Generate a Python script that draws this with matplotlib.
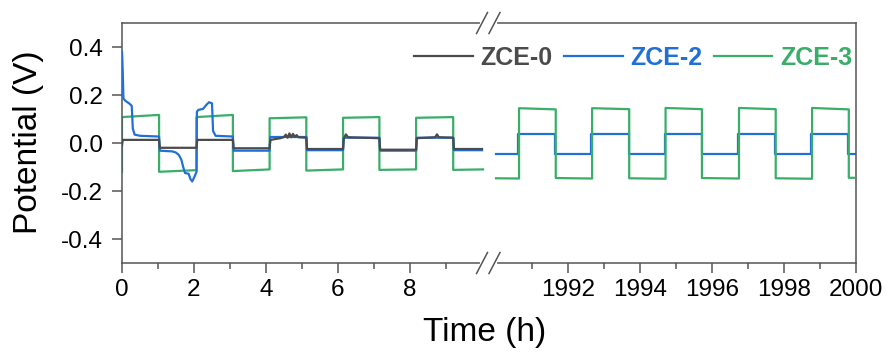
import matplotlib
matplotlib.use("Agg")
import matplotlib.pyplot as plt
from matplotlib.lines import Line2D
from matplotlib.ticker import FixedLocator

plt.rcParams['font.family'] = ['Liberation Sans', 'DejaVu Sans']
plt.rcParams['axes.unicode_minus'] = False

# ---------------- data ----------------
series_names = ["ZCE-0", "ZCE-2", "ZCE-3"]
colors = {"ZCE-0": "#4b4b4b", "ZCE-2": "#2170da", "ZCE-3": "#3aae69"}

# left segment (0-10 h)
zce0_t = [0, 0.02, 1.03, 1.05, 2.07, 2.09, 3.08, 3.10, 4.10, 4.12, 4.2, 4.4, 4.5, 4.55, 4.6, 4.65,
          4.7, 4.75, 4.8, 4.85, 4.9, 5.12, 5.14, 6.14, 6.16, 6.22, 6.28, 7.15, 7.17, 8.17, 8.19,
          8.7, 8.75, 8.8, 9.2, 9.22, 10.0]
zce0_v = [-0.01, 0.013, 0.013, -0.02, -0.02, 0.013, 0.013, -0.022, -0.022, 0.012, 0.015, 0.02,
          0.025, 0.035, 0.022, 0.04, 0.024, 0.038, 0.025, 0.033, 0.024, 0.022, -0.025, -0.025,
          0.018, 0.036, 0.024, 0.02, -0.028, -0.028, 0.02, 0.024, 0.036, 0.024, 0.022, -0.025,
          -0.025]

zce2_t = [0, 0.02, 0.04, 0.1, 0.2, 0.27, 0.3, 0.35, 0.5, 1.03, 1.05, 1.4, 1.5, 1.58, 1.65, 1.7,
          1.75, 1.85, 1.9, 1.95, 2.0, 2.07, 2.08, 2.12, 2.25, 2.35, 2.42, 2.5, 2.53, 2.6, 3.08,
          3.10, 4.10, 4.12, 5.12, 5.14, 6.14, 6.16, 7.15, 7.17, 8.17, 8.19, 9.2, 9.22, 10.0]
zce2_v = [0.38, 0.30, 0.185, 0.175, 0.165, 0.155, 0.06, 0.035, 0.03, 0.027, -0.032, -0.035,
          -0.04, -0.05, -0.07, -0.10, -0.125, -0.128, -0.15, -0.16, -0.145, -0.12, 0.13, 0.138,
          0.142, 0.16, 0.17, 0.165, 0.05, 0.03, 0.027, -0.032, -0.032, 0.025, 0.025, -0.03,
          -0.03, 0.022, 0.022, -0.032, -0.032, 0.022, 0.022, -0.03, -0.03]

zce3_switch_L = [0, 1.03, 2.07, 3.08, 4.10, 5.12, 6.14, 7.15, 8.17, 9.20, 10.03]
zce3_start_L = [0.108, -0.120, 0.108, -0.117, 0.103, -0.115, 0.105, -0.112, 0.105, -0.112]
zce3_end_L = [0.117, -0.113, 0.117, -0.110, 0.107, -0.110, 0.108, -0.110, 0.108, -0.110]
zce3_initial = -0.12

# right segment (1990-2000 h)
switch_R = [1990.0, 1990.64, 1991.66, 1992.67, 1993.70, 1994.71, 1995.72, 1996.75, 1997.77,
            1998.78, 1999.80, 2000.0]
zce2_switch_R = [1990.0, 1990.62, 1991.65, 1992.65, 1993.69, 1994.69, 1995.71, 1996.73, 1997.76,
                 1998.76, 1999.79, 2000.0]
zce2_level_R = [-0.046, 0.038, -0.046, 0.038, -0.046, 0.038, -0.046, 0.038, -0.046, 0.038, -0.046]
zce3_start_R = [-0.147, 0.145, -0.146, 0.145, -0.147, 0.146, -0.146, 0.146, -0.147, 0.146, -0.145]
zce3_end_R = [-0.148, 0.140, -0.148, 0.141, -0.149, 0.141, -0.148, 0.141, -0.149, 0.140, -0.145]

left_xticks = [0, 2, 4, 6, 8]
left_minor = [1, 3, 5, 7, 9]
right_xticks = [1992, 1994, 1996, 1998, 2000]
right_minor = [1991, 1993, 1995, 1997, 1999]
yticks = [-0.4, -0.2, 0.0, 0.2, 0.4]


def steps(switch, start, end):
    t, v = [], []
    for i in range(len(start)):
        t += [switch[i], switch[i + 1]]
        v += [start[i], end[i]]
    return t, v


# ---------------- figure ----------------
W, H = 891, 355
fig = plt.figure(figsize=(W / 100, H / 100), dpi=100)

x_left, x_break, x_right = 122, 489, 856
y_top, y_bot = 23, 263
pxh = 36.0  # pixels per hour

axL = fig.add_axes([x_left / W, 1 - y_bot / H, (x_break - x_left) / W, (y_bot - y_top) / H])
axR = fig.add_axes([x_break / W, 1 - y_bot / H, (x_right - x_break) / W, (y_bot - y_top) / H])

lw = 1.6
gt, gv = steps(zce3_switch_L, zce3_start_L, zce3_end_L)
axL.plot([0] + gt, [zce3_initial] + gv, color=colors["ZCE-3"], lw=lw, zorder=2)
axL.plot(zce2_t, zce2_v, color=colors["ZCE-2"], lw=lw, zorder=3)
axL.plot(zce0_t, zce0_v, color=colors["ZCE-0"], lw=lw, zorder=4)

bt, bv = steps(zce2_switch_R, zce2_level_R, zce2_level_R)
axR.plot(bt, bv, color=colors["ZCE-2"], lw=lw, zorder=2)
rt, rv = steps(switch_R, zce3_start_R, zce3_end_R)
axR.plot(rt, rv, color=colors["ZCE-3"], lw=lw, zorder=3)

spine_c = "#555555"
axL.set_xlim(0, (x_break - x_left) / pxh)
axR.set_xlim(2000 - (x_right - x_break) / pxh, 2000)
for ax in (axL, axR):
    ax.set_ylim(-0.5, 0.5)
    for s in ax.spines.values():
        s.set_color(spine_c)
        s.set_linewidth(1.1)
    ax.tick_params(which='major', direction='out', length=7.5, width=1.1, color=spine_c,
                   labelsize=17.5, pad=4)
    ax.tick_params(which='minor', direction='out', length=4.5, width=1.1, color=spine_c)
axL.spines['right'].set_visible(False)
axR.spines['left'].set_visible(False)
axL.set_xticks(left_xticks)
axL.xaxis.set_minor_locator(FixedLocator(left_minor))
axL.set_yticks(yticks)
axL.set_yticklabels([f"{v:.1f}" for v in yticks])
axL.tick_params(axis='y', pad=6)
axR.set_xticks(right_xticks)
axR.xaxis.set_minor_locator(FixedLocator(right_minor))
axR.set_yticks([])

# break marks
def fx(px):
    return px / W


def fy(py):
    return 1 - py / H


for yy in (y_top, y_bot):
    fig.add_artist(Line2D([fx(482), fx(495)], [fy(yy), fy(yy)], color='white', lw=3,
                          transform=fig.transFigure, zorder=10))
    for cx in (482, 494.5):
        fig.add_artist(Line2D([fx(cx - 5.5), fx(cx + 5.5)], [fy(yy + 10.5), fy(yy - 10.5)],
                              color=spine_c, lw=1.1, transform=fig.transFigure, zorder=11))

# labels
fig.text(29 / W, fy(142), "Potential (V)", rotation=90, ha='center', va='center', fontsize=24)
fig.text(485 / W, fy(333), "Time (h)", ha='center', va='center', fontsize=24)

handles = [Line2D([], [], color=colors[n], lw=lw) for n in series_names]
leg = fig.legend(handles, series_names, loc='center right', bbox_to_anchor=(852 / W, fy(58)),
                 ncol=3, frameon=False, handlelength=2.35, handletextpad=0.3,
                 columnspacing=0.45, borderpad=0, borderaxespad=0,
                 prop={'size': 18, 'weight': 'bold'})
for txt, n in zip(leg.get_texts(), series_names):
    txt.set_color(colors[n])

fig.savefig("out.png", dpi=100)
